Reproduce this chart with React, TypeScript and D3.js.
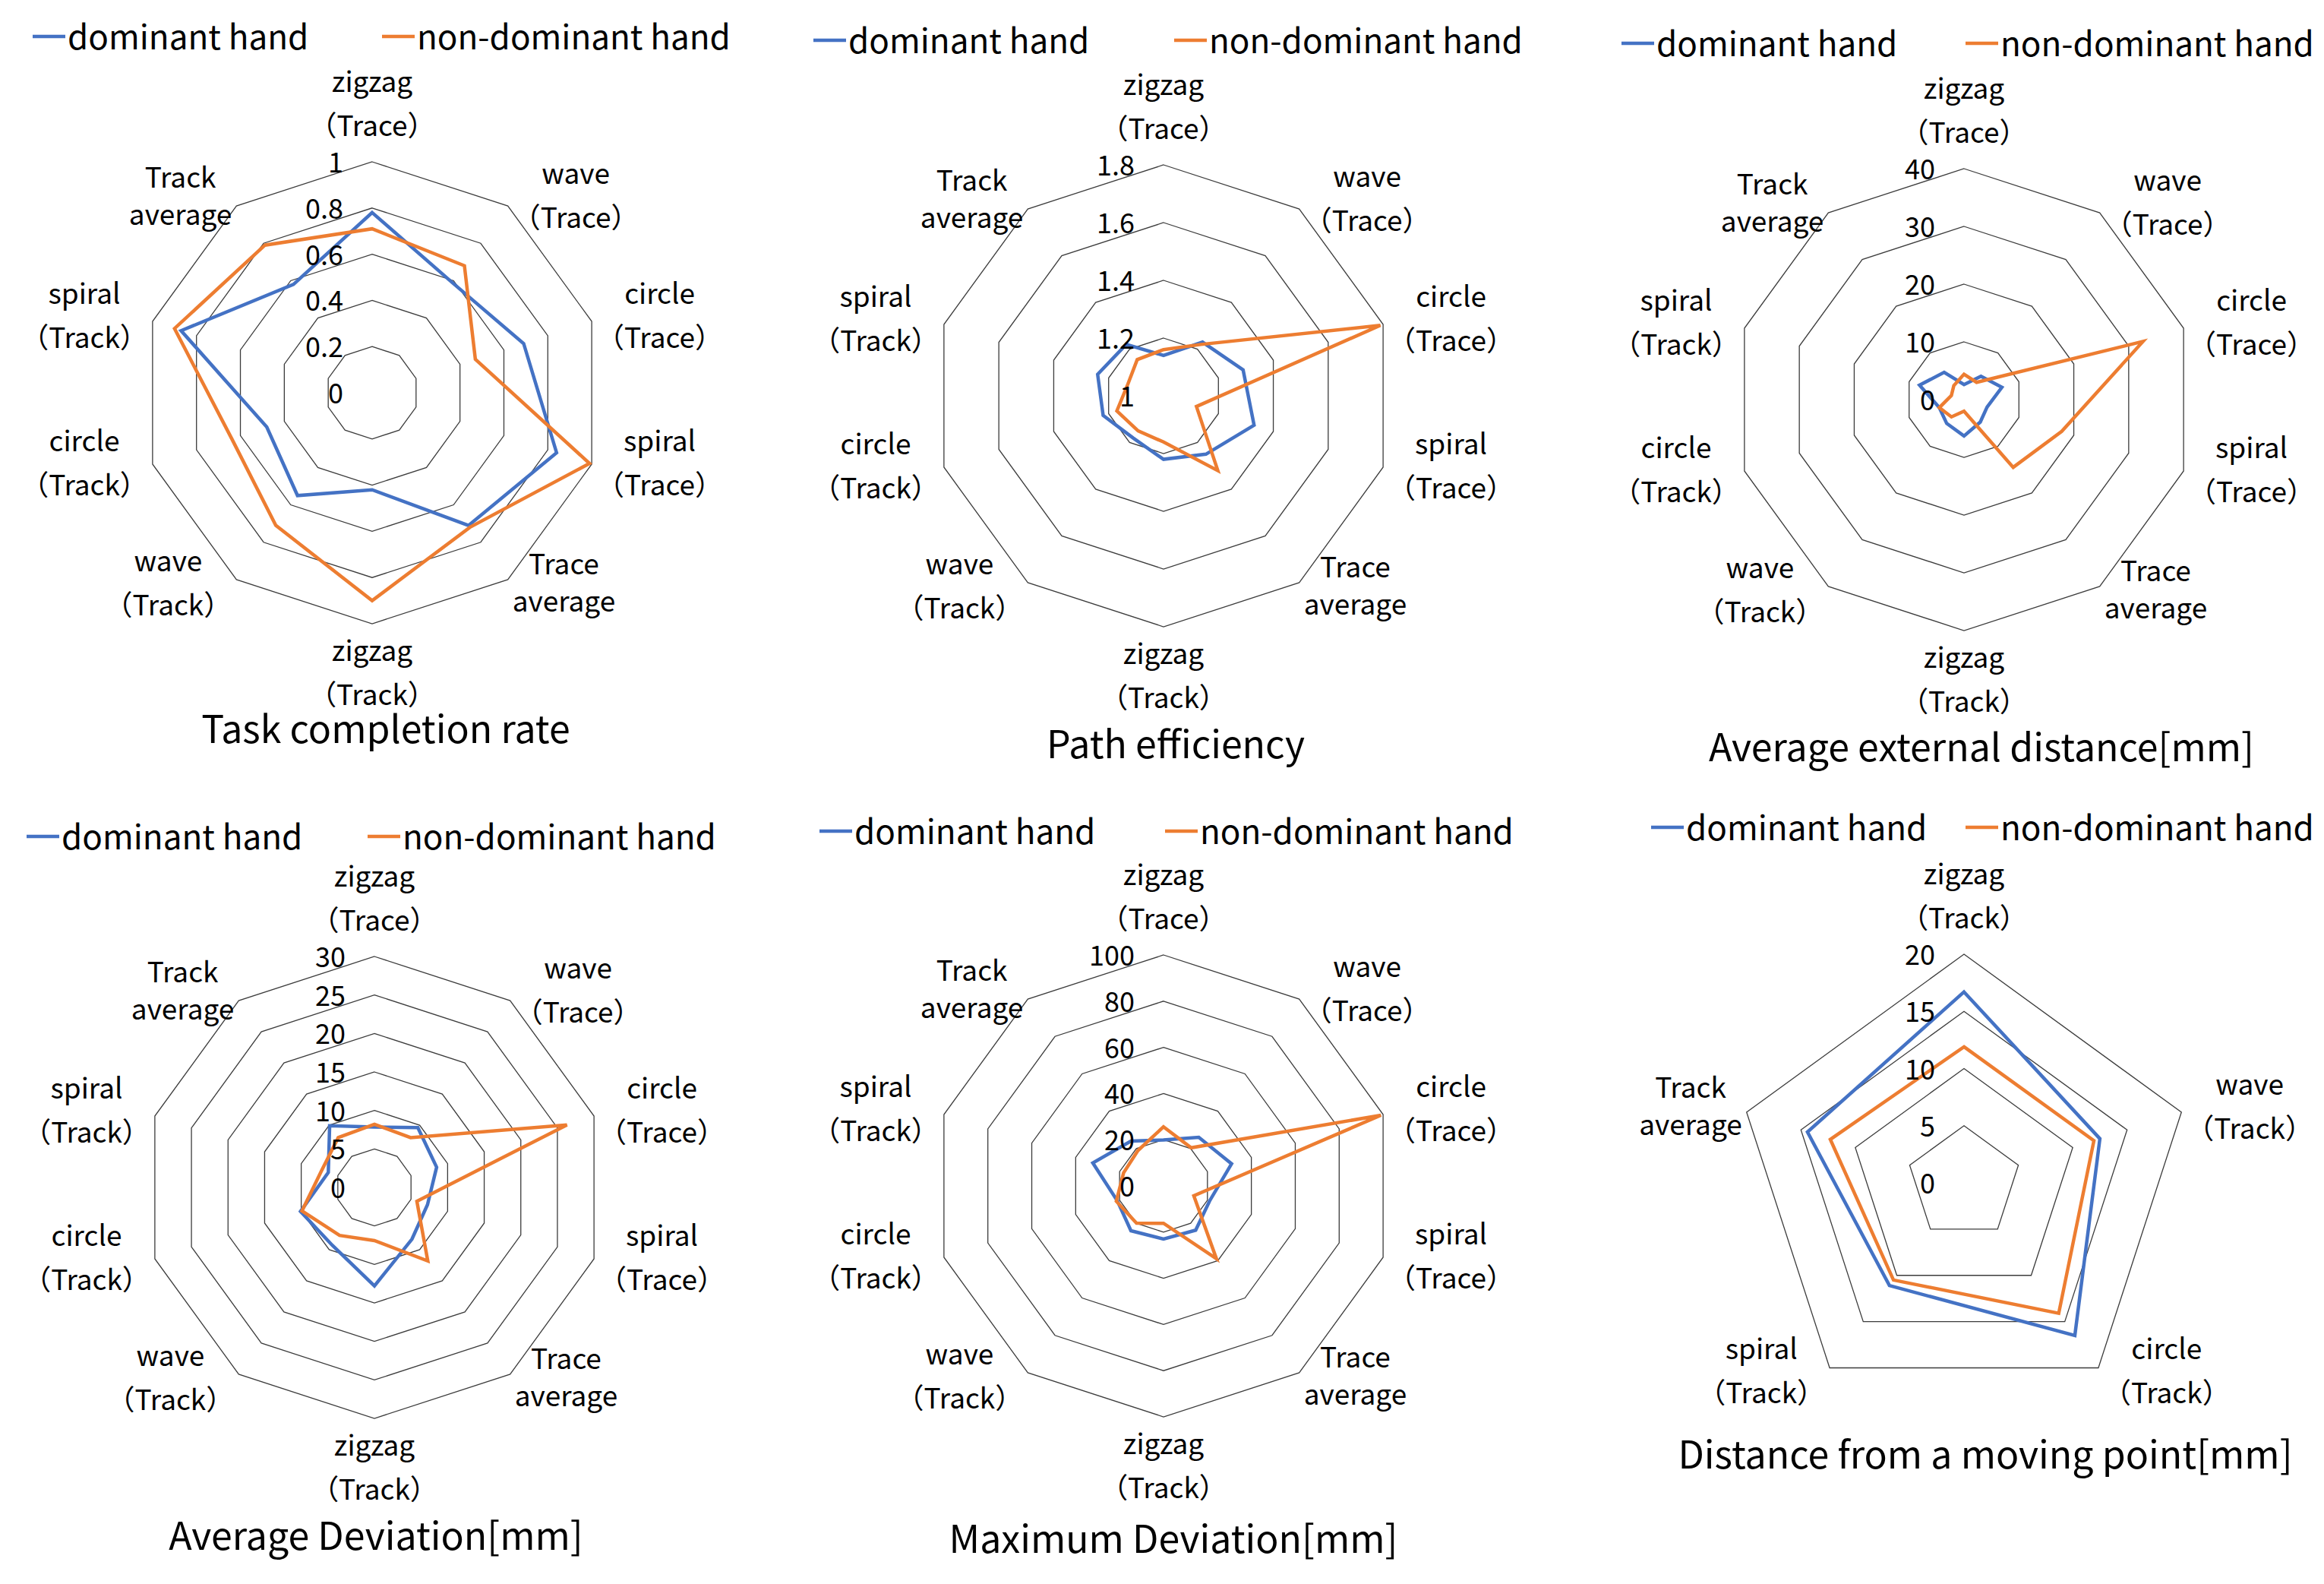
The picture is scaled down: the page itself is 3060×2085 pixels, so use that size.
import React from "react";
import * as d3 from "d3";

const W = 3060;
const H = 2085;
const FONT = "'Noto Sans CJK JP', 'Noto Sans', sans-serif";
const BLUE = "#4472C4";
const ORANGE = "#ED7D31";
const GRID = "#3c3c3c";

// ---- categories ----
const AXES_TEN: string[][] = [
  ["zigzag", "（Trace）"],
  ["wave", "（Trace）"],
  ["circle", "（Trace）"],
  ["spiral", "（Trace）"],
  ["Trace", "average"],
  ["zigzag", "（Track）"],
  ["wave", "（Track）"],
  ["circle", "（Track）"],
  ["spiral", "（Track）"],
  ["Track", "average"],
];
const AXES_FIVE: string[][] = [
  ["zigzag", "（Track）"],
  ["wave", "（Track）"],
  ["circle", "（Track）"],
  ["spiral", "（Track）"],
  ["Track", "average"],
];
const SERIES_NAMES = ["dominant hand", "non-dominant hand"];

// ---- tick labels ----
const TICKS_COMPLETION = [0, 0.2, 0.4, 0.6, 0.8, 1];
const TICKS_EFFICIENCY = [1, 1.2, 1.4, 1.6, 1.8];
const TICKS_EXTERNAL = [0, 10, 20, 30, 40];
const TICKS_AVGDEV = [0, 5, 10, 15, 20, 25, 30];
const TICKS_MAXDEV = [0, 20, 40, 60, 80, 100];
const TICKS_MOVING = [0, 5, 10, 15, 20];

// ---- series values ----
const completionDominant = [0.78, 0.59, 0.69, 0.84, 0.71, 0.42, 0.55, 0.48, 0.87, 0.58];
const completionNonDominant = [0.71, 0.68, 0.47, 0.99, 0.72, 0.9, 0.71, 0.64, 0.9, 0.79];

const efficiencyDominant = [1.14, 1.23, 1.29, 1.33, 1.25, 1.22, 1.18, 1.22, 1.24, 1.22];
const efficiencyNonDominant = [1.16, 1.22, 1.79, 1.12, 1.32, 1.16, 1.15, 1.17, 1.13, 1.155];

const externalDominant = [2.6, 5.0, 6.9, 4.2, 4.8, 6.3, 5.1, 4.5, 8.1, 5.85];
const externalNonDominant = [4.4, 3.7, 32.6, 17.8, 14.5, 2.0, 3.7, 4.5, 2.3, 3.0];

const avgDevDominant = [7.85, 9.6, 8.5, 7.25, 8.3, 12.8, 9.3, 10.1, 6.3, 9.9];
const avgDevNonDominant = [8.2, 8.0, 26.3, 5.8, 11.8, 6.9, 7.7, 9.9, 7.2, 8.0];

const maxDevDominant = [19.9, 26.0, 31.0, 21.0, 23.7, 23.0, 24.0, 21.0, 32.2, 24.0];
const maxDevNonDominant = [25.6, 20.4, 99, 13.8, 39, 16.2, 19.9, 21.5, 18.2, 18.9];

const movingDominant = [16.7, 12.5, 16.5, 11.1, 14.4];
const movingNonDominant = [11.9, 11.95, 14.1, 10.5, 12.3];

const TITLES = [
  "Task completion rate",
  "Path efficiency",
  "Average external distance[mm]",
  "Average Deviation[mm]",
  "Maximum Deviation[mm]",
  "Distance from a moving point[mm]",
];

let measureCtx: CanvasRenderingContext2D | null = null;
function measure(text: string, size: number): number {
  if (!measureCtx) {
    const c = document.createElement("canvas");
    measureCtx = c.getContext("2d");
  }
  if (!measureCtx) return text.length * size * 0.5;
  measureCtx.font = `${size}px ${FONT}`;
  return measureCtx.measureText(text).width;
}

type RadarProps = {
  cx: number;
  cy: number;
  R: number;
  axes: string[][];
  ticks: number[];
  dom: number[];
  non: number[];
  title: string;
  titleX: number;
  titleY: number;
  legendBlueX: number;
  legendOrangeX: number;
  legendY: number;
};

const AXIS_FS = 37;
const TICK_FS = 36;
const LEGEND_FS = 44;
const TITLE_FS = 50;

function Radar(p: RadarProps) {
  const n = p.axes.length;
  const rScale = d3
    .scaleLinear()
    .domain([p.ticks[0], p.ticks[p.ticks.length - 1]])
    .range([0, p.R]);
  const angle = (i: number) => (i * 2 * Math.PI) / n;

  const ringLine = d3
    .lineRadial<number>()
    .angle((_, i) => angle(i))
    .radius((d) => d)
    .curve(d3.curveLinearClosed);

  const dataLine = d3
    .lineRadial<number>()
    .angle((_, i) => angle(i))
    .radius((d) => rScale(d))
    .curve(d3.curveLinearClosed);

  const rings = p.ticks.slice(1).map((t) => new Array(n).fill(rScale(t)));

  const labelEls: React.ReactNode[] = [];
  p.axes.forEach((lines, i) => {
    const a = angle(i);
    const dx = Math.sin(a);
    const dy = -Math.cos(a);
    const vx = p.cx + p.R * dx;
    const vy = p.cy + p.R * dy;
    const lh = lines.some((l) => l.includes("（")) ? 58 : 49;
    const ys: number[] = [];
    let x = vx;
    if (Math.abs(dx) < 0.2) {
      if (dy < 0) {
        lines.forEach((_, j) => ys.push(vy - 50 - (lines.length - 1 - j) * lh));
      } else {
        lines.forEach((_, j) => ys.push(vy + 33 + j * lh));
      }
    } else {
      const w = Math.max(...lines.map((l) => measure(l, AXIS_FS)));
      x = vx + Math.sign(dx) * (w / 2 + 6);
      const by = vy + dy * 11 - 7;
      lines.forEach((_, j) => ys.push(by + (j - (lines.length - 1) / 2) * lh));
    }
    lines.forEach((l, j) => {
      labelEls.push(
        <text
          key={`lab-${i}-${j}`}
          x={x}
          y={ys[j]}
          textAnchor="middle"
          dominantBaseline="central"
          fontSize={AXIS_FS}
          fill="#000"
        >
          {l}
        </text>
      );
    });
  });

  const fmt = (t: number) => String(t);

  return (
    <g fontFamily={FONT}>
      {/* legend */}
      <g>
        <line
          x1={p.legendBlueX}
          x2={p.legendBlueX + 43}
          y1={p.legendY}
          y2={p.legendY}
          stroke={BLUE}
          strokeWidth={4.5}
        />
        <text
          x={p.legendBlueX + 46}
          y={p.legendY - 2}
          dominantBaseline="central"
          fontSize={LEGEND_FS}
          fill="#000"
        >
          {SERIES_NAMES[0]}
        </text>
        <line
          x1={p.legendOrangeX}
          x2={p.legendOrangeX + 43}
          y1={p.legendY}
          y2={p.legendY}
          stroke={ORANGE}
          strokeWidth={4.5}
        />
        <text
          x={p.legendOrangeX + 46}
          y={p.legendY - 2}
          dominantBaseline="central"
          fontSize={LEGEND_FS}
          fill="#000"
        >
          {SERIES_NAMES[1]}
        </text>
      </g>
      <g transform={`translate(${p.cx},${p.cy})`}>
        {rings.map((r, k) => (
          <path key={`ring-${k}`} d={ringLine(r) || ""} fill="none" stroke={GRID} strokeWidth={1.3} />
        ))}
        <path
          d={dataLine(p.dom) || ""}
          fill="none"
          stroke={BLUE}
          strokeWidth={4.5}
          strokeLinejoin="miter"
        />
        <path
          d={dataLine(p.non) || ""}
          fill="none"
          stroke={ORANGE}
          strokeWidth={4.5}
          strokeLinejoin="miter"
        />
        {p.ticks.map((t, k) => (
          <text
            key={`tick-${k}`}
            x={-38}
            y={-rScale(t) - 2}
            textAnchor="end"
            dominantBaseline="central"
            fontSize={TICK_FS}
            fill="#000"
          >
            {fmt(t)}
          </text>
        ))}
      </g>
      {labelEls}
      <text
        x={p.titleX}
        y={p.titleY}
        textAnchor="middle"
        dominantBaseline="central"
        fontSize={TITLE_FS}
        fill="#000"
      >
        {p.title}
      </text>
    </g>
  );
}

export default function App() {
  const charts: RadarProps[] = [
    {
      cx: 490, cy: 517, R: 304, axes: AXES_TEN, ticks: TICKS_COMPLETION,
      dom: completionDominant, non: completionNonDominant, title: TITLES[0],
      titleX: 508, titleY: 956, legendBlueX: 43, legendOrangeX: 503, legendY: 48,
    },
    {
      cx: 1532, cy: 521, R: 304, axes: AXES_TEN, ticks: TICKS_EFFICIENCY,
      dom: efficiencyDominant, non: efficiencyNonDominant, title: TITLES[1],
      titleX: 1548, titleY: 976, legendBlueX: 1071, legendOrangeX: 1546, legendY: 53,
    },
    {
      cx: 2586, cy: 526, R: 304, axes: AXES_TEN, ticks: TICKS_EXTERNAL,
      dom: externalDominant, non: externalNonDominant, title: TITLES[2],
      titleX: 2609, titleY: 980, legendBlueX: 2135, legendOrangeX: 2588, legendY: 57,
    },
    {
      cx: 493, cy: 1563, R: 304, axes: AXES_TEN, ticks: TICKS_AVGDEV,
      dom: avgDevDominant, non: avgDevNonDominant, title: TITLES[3],
      titleX: 495, titleY: 2018, legendBlueX: 35, legendOrangeX: 484, legendY: 1101,
    },
    {
      cx: 1532, cy: 1561, R: 304, axes: AXES_TEN, ticks: TICKS_MAXDEV,
      dom: maxDevDominant, non: maxDevNonDominant, title: TITLES[4],
      titleX: 1545, titleY: 2022, legendBlueX: 1079, legendOrangeX: 1534, legendY: 1094,
    },
    {
      cx: 2586, cy: 1557, R: 301, axes: AXES_FIVE, ticks: TICKS_MOVING,
      dom: movingDominant, non: movingNonDominant, title: TITLES[5],
      titleX: 2614, titleY: 1911, legendBlueX: 2174, legendOrangeX: 2588, legendY: 1089,
    },
  ];
  return (
    <svg
      width={W}
      height={H}
      viewBox={`0 0 ${W} ${H}`}
      style={{ position: "absolute", left: 0, top: 0, background: "#fff" }}
    >
      <rect width={W} height={H} fill="#fff" />
      {charts.map((c, i) => (
        <Radar key={i} {...c} />
      ))}
    </svg>
  );
}
